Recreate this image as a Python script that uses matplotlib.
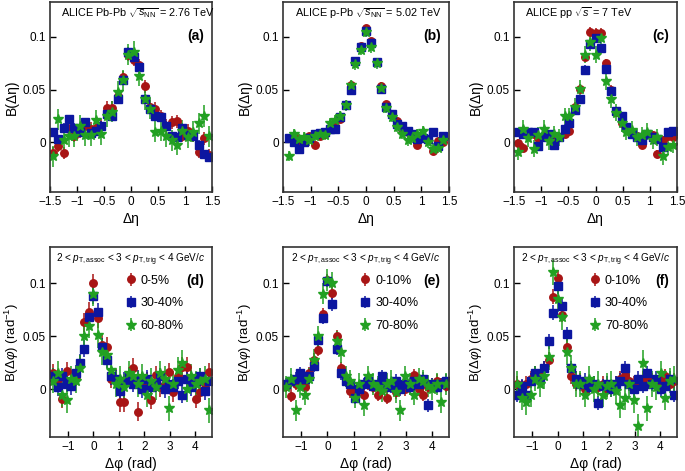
import matplotlib
matplotlib.use("Agg")
import matplotlib.pyplot as plt

plt.rcParams['font.family'] = ['Liberation Sans', 'DejaVu Sans']
plt.rcParams['mathtext.fontset'] = 'custom'
plt.rcParams['mathtext.rm'] = 'Liberation Sans'
plt.rcParams['mathtext.it'] = 'Liberation Sans:italic'
plt.rcParams['mathtext.bf'] = 'Liberation Sans:bold'

RED = '#a81515'
BLUE = '#0c16a0'
GREEN = '#22a022'

# ---- top row: B(delta eta) ----
eta_a = [-1.45, -1.35, -1.25, -1.15, -1.05, -0.95, -0.85, -0.75, -0.65, -0.55,
         -0.45, -0.35, -0.25, -0.15, -0.05, 0.05, 0.15, 0.25, 0.35, 0.45,
         0.55, 0.65, 0.75, 0.85, 0.95, 1.05, 1.15, 1.25, 1.35, 1.45]
a_red = [-0.010, -0.003, -0.010, 0.013, 0.006, 0.010, 0.016, 0.013, 0.014, 0.016,
         0.033, 0.033, 0.044, 0.062, 0.083, 0.078, 0.073, 0.053, 0.034, 0.032,
         0.025, 0.016, 0.019, 0.020, 0.006, 0.011, 0.006, -0.009, 0.004, -0.012]
a_blue = [0.010, 0.003, 0.014, 0.022, 0.014, 0.010, 0.019, 0.009, 0.011, 0.016,
          0.027, 0.025, 0.041, 0.059, 0.086, 0.081, 0.071, 0.041, 0.032, 0.025,
          0.024, 0.016, 0.006, 0.005, 0.014, 0.007, 0.006, -0.002, -0.011, -0.014]
a_green = [-0.013, 0.022, 0.002, 0.006, 0.006, 0.016, 0.007, 0.007, 0.021, 0.008,
           0.025, 0.029, 0.048, 0.059, 0.083, 0.086, 0.063, 0.041, 0.032, 0.010,
           0.011, 0.006, 0.002, -0.002, 0.011, 0.005, 0.010, 0.018, 0.025, 0.006]
a_err = [0.006, 0.004, 0.010]

eta_b = [-1.40, -1.31, -1.21, -1.12, -1.03, -0.93, -0.84, -0.75, -0.65, -0.56,
         -0.47, -0.37, -0.28, -0.19, -0.09, 0.0, 0.09, 0.19, 0.28, 0.37,
         0.47, 0.56, 0.65, 0.75, 0.84, 0.93, 1.03, 1.12, 1.21, 1.31, 1.40]
b_red = [0.004, 0.006, 0.002, 0.002, 0.006, -0.002, 0.006, 0.008, 0.013, 0.016,
         0.022, 0.035, 0.054, 0.076, 0.091, 0.108, 0.096, 0.076, 0.053, 0.036,
         0.027, 0.020, 0.013, 0.010, 0.007, -0.002, 0.004, 0.003, -0.008, 0.001, 0.000]
b_blue = [0.004, 0.000, -0.006, 0.000, 0.004, 0.008, 0.009, 0.010, 0.013, 0.013,
          0.024, 0.035, 0.050, 0.077, 0.090, 0.106, 0.094, 0.076, 0.051, 0.034,
          0.027, 0.017, 0.016, 0.011, 0.008, 0.003, 0.004, 0.003, 0.010, -0.003, 0.006]
b_green = [-0.013, 0.008, 0.003, 0.005, 0.002, 0.006, 0.008, 0.007, 0.018, 0.021,
           0.025, 0.035, 0.054, 0.074, 0.088, 0.105, 0.090, 0.075, 0.052, 0.033,
           0.024, 0.015, 0.008, 0.002, 0.004, 0.008, 0.011, 0.000, -0.006, -0.005, 0.002]
b_err = [0.003, 0.003, 0.005]

eta_c = [-1.43, -1.33, -1.24, -1.14, -1.05, -0.95, -0.86, -0.76, -0.67, -0.57,
         -0.48, -0.38, -0.29, -0.19, -0.10, 0.0, 0.10, 0.19, 0.29, 0.38,
         0.48, 0.57, 0.67, 0.76, 0.86, 0.95, 1.05, 1.14, 1.24, 1.33, 1.43]
c_red = [-0.001, -0.005, 0.007, 0.008, 0.004, 0.006, 0.005, 0.003, 0.005, 0.008,
         0.011, 0.034, 0.051, 0.081, 0.105, 0.104, 0.104, 0.075, 0.050, 0.029,
         0.018, 0.015, 0.010, 0.006, -0.002, 0.008, 0.007, -0.011, 0.002, 0.006, 0.005]
c_blue = [0.010, 0.008, 0.010, 0.010, -0.003, 0.005, 0.008, -0.002, 0.005, 0.013,
          0.018, 0.031, 0.041, 0.069, 0.093, 0.099, 0.089, 0.070, 0.049, 0.030,
          0.025, 0.015, 0.008, 0.005, 0.002, 0.008, 0.005, 0.003, -0.004, 0.010, 0.011]
c_green = [-0.009, 0.013, 0.004, -0.006, 0.007, 0.013, 0.001, 0.008, 0.005, 0.025,
           0.025, 0.034, 0.051, 0.083, 0.095, 0.083, 0.099, 0.058, 0.041, 0.028,
           0.018, 0.010, 0.012, 0.005, 0.007, 0.010, 0.002, 0.005, -0.013, -0.004, -0.002]
c_err = [0.004, 0.004, 0.008]

# ---- bottom row: B(delta phi) ----
phi = [-1.57, -1.40, -1.22, -1.05, -0.87, -0.70, -0.52, -0.35, -0.17, 0.0,
       0.17, 0.35, 0.52, 0.70, 0.87, 1.05, 1.22, 1.40, 1.57, 1.75,
       1.92, 2.09, 2.27, 2.44, 2.62, 2.79, 2.97, 3.14, 3.32, 3.49,
       3.67, 3.84, 4.01, 4.19, 4.36, 4.54]

d_red = [0.015, 0.010, -0.009, 0.017, 0.007, 0.012, 0.023, 0.063, 0.073, 0.100,
         0.067, 0.042, 0.040, 0.010, 0.010, -0.012, -0.012, 0.012, 0.020, -0.021,
         0.007, 0.007, -0.010, 0.013, 0.002, 0.005, 0.016, -0.003, 0.012, 0.021,
         0.021, 0.009, -0.009, -0.003, 0.005, 0.016]
d_blue = [0.012, 0.002, 0.012, 0.005, 0.003, 0.015, 0.025, 0.038, 0.068, 0.088,
          0.073, 0.040, 0.028, 0.012, 0.010, -0.002, 0.008, 0.012, 0.005, 0.010,
          0.000, 0.010, 0.002, 0.005, 0.012, 0.000, 0.005, 0.002, 0.008, -0.005,
          0.010, 0.002, 0.008, 0.012, -0.002, 0.008]
d_green = [0.008, 0.015, -0.005, -0.010, 0.010, 0.008, 0.020, 0.050, 0.060, 0.090,
           0.051, 0.035, 0.032, 0.018, 0.005, 0.010, 0.002, 0.015, 0.012, 0.005,
           0.012, -0.005, 0.008, 0.002, 0.015, 0.010, -0.018, 0.005, 0.018, 0.025,
           0.000, 0.012, 0.005, 0.008, 0.010, -0.020]
d_err = [0.009, 0.008, 0.012]

e_red = [0.003, -0.006, 0.005, 0.008, 0.002, 0.015, 0.028, 0.037, 0.071, 0.103,
         0.091, 0.050, 0.020, 0.010, -0.002, -0.002, 0.000, -0.005, 0.005, 0.002,
         -0.005, 0.000, -0.008, 0.005, -0.003, 0.003, 0.000, 0.005, 0.013, 0.000,
         -0.005, 0.002, 0.005, 0.008, 0.005, 0.003]
e_blue = [0.005, 0.008, 0.010, 0.015, 0.010, 0.012, 0.022, 0.046, 0.067, 0.102,
          0.080, 0.038, 0.015, 0.008, 0.005, -0.008, 0.000, 0.005, 0.008, 0.003,
          0.005, 0.012, 0.005, 0.002, 0.008, 0.000, 0.005, 0.002, 0.008, 0.005,
          0.010, -0.015, 0.005, 0.002, 0.005, 0.008]
e_green = [0.002, 0.010, -0.020, 0.002, -0.005, 0.010, 0.028, 0.050, 0.090, 0.103,
           0.100, 0.045, 0.035, 0.012, 0.008, -0.008, 0.005, -0.015, 0.012, 0.005,
           0.002, -0.002, 0.005, 0.008, -0.003, -0.020, 0.012, 0.005, -0.005, 0.010,
           0.008, 0.003, 0.000, 0.005, -0.012, 0.005]
e_err = [0.006, 0.006, 0.010]

f_red = [0.005, 0.002, 0.005, 0.010, 0.015, 0.012, 0.020, 0.028, 0.087, 0.105,
         0.070, 0.040, 0.012, 0.005, 0.008, 0.000, 0.003, 0.005, 0.002, 0.005,
         0.000, 0.002, 0.005, 0.010, 0.013, 0.008, 0.005, 0.003, 0.010, 0.012,
         0.008, 0.005, 0.008, 0.012, 0.005, 0.008]
f_blue = [-0.005, 0.003, -0.005, 0.008, 0.015, 0.010, 0.020, 0.045, 0.072, 0.097,
          0.078, 0.052, 0.020, 0.010, 0.005, 0.008, 0.002, 0.005, -0.013, 0.003,
          0.005, 0.000, 0.005, 0.008, 0.020, 0.005, 0.000, 0.010, 0.003, 0.015,
          0.005, 0.010, 0.000, 0.003, 0.010, -0.005]
f_green = [0.005, -0.008, -0.012, -0.005, 0.010, 0.005, 0.012, 0.030, 0.110, 0.085,
           0.068, 0.035, 0.020, 0.005, 0.005, -0.005, 0.010, 0.000, 0.005, -0.005,
           0.003, 0.005, -0.002, -0.015, -0.008, 0.005, -0.010, -0.035, 0.025, -0.018,
           0.005, 0.002, 0.015, -0.008, 0.008, 0.010]
f_err = [0.007, 0.007, 0.012]

top_titles = [r'ALICE Pb-Pb $\sqrt{s_{\rm NN}}$ = 2.76 TeV',
              r'ALICE p-Pb $\sqrt{s_{\rm NN}}$ = 5.02 TeV',
              r'ALICE pp $\sqrt{s}$ = 7 TeV']
bottom_title = r'2 < $p_{\rm T,assoc}$ < 3 < $p_{\rm T,trig}$ < 4 GeV/$c$'
legend_d = ['0-5%', '30-40%', '60-80%']
legend_ef = ['0-10%', '30-40%', '70-80%']

W, H = 685, 471
fig = plt.figure(figsize=(W / 100, H / 100), dpi=100)


def make_axes(left, right, top, bottom):
    return fig.add_axes([left / W, 1 - bottom / H, (right - left) / W, (bottom - top) / H])


def style(ax):
    ax.tick_params(direction='in', length=4, width=1, labelsize=8.5, pad=3,
                   top=False, right=False)
    for s in ax.spines.values():
        s.set_linewidth(1.2)
        s.set_color('#333333')


def draw(ax, x, red, blue, green, err, labels=None):
    ax.errorbar(x, red, yerr=err[0], fmt='o', color=RED, ms=5.4,
                elinewidth=1.1, capsize=0, label=labels[0] if labels else None)
    ax.errorbar(x, blue, yerr=err[1], fmt='s', color=BLUE, ms=5.4,
                elinewidth=1.1, capsize=0, label=labels[1] if labels else None)
    ax.errorbar(x, green, yerr=err[2], fmt='*', color=GREEN, ms=7.5,
                elinewidth=1.1, capsize=0, label=labels[2] if labels else None)


cols = [(50, 212), (283, 449), (514, 677)]
top_data = [(eta_a, a_red, a_blue, a_green, a_err),
            (eta_b, b_red, b_blue, b_green, b_err),
            (eta_c, c_red, c_blue, c_green, c_err)]
bot_data = [(d_red, d_blue, d_green, d_err, legend_d),
            (e_red, e_blue, e_green, e_err, legend_ef),
            (f_red, f_blue, f_green, f_err, legend_ef)]
top_tags = ['(a)', '(b)', '(c)']
bot_tags = ['(d)', '(e)', '(f)']

for i, (l, r) in enumerate(cols):
    ax = make_axes(l, r, 2, 192)
    x, rd, bl, gr, er = top_data[i]
    draw(ax, x, rd, bl, gr, er)
    ax.set_xlim(-1.5, 1.5)
    ax.set_ylim(-0.047, 0.133)
    ax.set_xticks([-1.5, -1, -0.5, 0, 0.5, 1, 1.5])
    ax.set_xticklabels(['\u22121.5', '\u22121', '\u22120.5', '0', '0.5', '1', '1.5'])
    ax.set_yticks([0, 0.05, 0.1])
    ax.set_yticklabels(['0', '0.05', '0.1'])
    ax.set_xlabel('\u0394\u03b7', fontsize=10, labelpad=3)
    ax.set_ylabel('B(\u0394\u03b7)', fontsize=10, labelpad=3)
    ax.text(0.07, 0.94, top_titles[i], transform=ax.transAxes, fontsize=7.8,
            va='center', ha='left')
    ax.text(0.95, 0.82, top_tags[i], transform=ax.transAxes, fontsize=10,
            fontweight='bold', va='center', ha='right')
    style(ax)

for i, (l, r) in enumerate(cols):
    ax = make_axes(l, r, 247, 437)
    rd, bl, gr, er, labs = bot_data[i]
    draw(ax, phi, rd, bl, gr, er, labs)
    ax.set_xlim(-1.7, 4.65)
    ax.set_ylim(-0.045, 0.134)
    ax.set_xticks([-1, 0, 1, 2, 3, 4])
    ax.set_xticklabels(['\u22121', '0', '1', '2', '3', '4'])
    ax.set_yticks([0, 0.05, 0.1])
    ax.set_yticklabels(['0', '0.05', '0.1'])
    ax.set_xlabel('\u0394\u03c6 (rad)', fontsize=10, labelpad=3)
    ax.set_ylabel(r'B($\Delta\varphi$) (rad$^{-1}$)', fontsize=9.5, labelpad=1)
    ax.text(0.5, 0.93, bottom_title, transform=ax.transAxes, fontsize=7.2,
            va='center', ha='center')
    ax.text(0.95, 0.82, bot_tags[i], transform=ax.transAxes, fontsize=10,
            fontweight='bold', va='center', ha='right')
    ax.legend(loc='upper left', bbox_to_anchor=(0.42, 0.88), frameon=False,
              fontsize=9, handletextpad=0.2, labelspacing=0.85,
              handlelength=1.2, borderaxespad=0)
    style(ax)

fig.savefig('out.png', dpi=100)
